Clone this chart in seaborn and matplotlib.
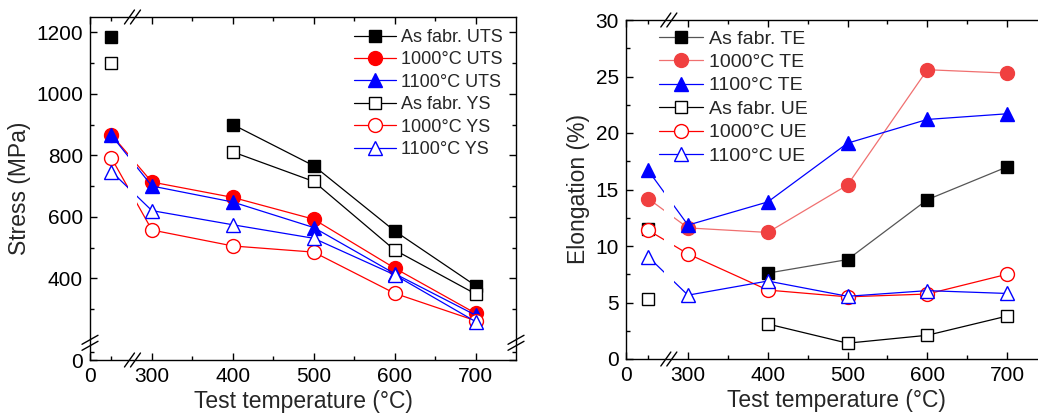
import matplotlib
matplotlib.use("Agg")
import matplotlib.pyplot as plt
from matplotlib.lines import Line2D
import seaborn as sns
import pandas as pd
import numpy as np

sns.set_style("ticks")
plt.rcParams['font.family'] = ['Liberation Sans', 'DejaVu Sans']

# test temperatures; room temperature is drawn at 250 on the broken axis
temps = [250, 300, 400, 500, 600, 700]

# stress (MPa)
asfab_uts = [1184, np.nan, 900, 766, 554, 376]
t1000_uts = [867, 713, 663, 592, 433, 286]
t1100_uts = [865, 700, 648, 565, 415, 280]
asfab_ys = [1099, np.nan, 811, 715, 492, 349]
t1000_ys = [791, 557, 505, 485, 351, 262]
t1100_ys = [747, 620, 574, 530, 411, 259]

# elongation (%)
asfab_te = [11.5, np.nan, 7.6, 8.8, 14.1, 17.0]
t1000_te = [14.2, 11.6, 11.2, 15.4, 25.6, 25.3]
t1100_te = [16.7, 11.85, 13.9, 19.1, 21.2, 21.7]
asfab_ue = [5.3, np.nan, 3.1, 1.4, 2.1, 3.8]
t1000_ue = [11.4, 9.3, 6.1, 5.5, 5.75, 7.5]
t1100_ue = [9.05, 5.65, 6.9, 5.55, 6.05, 5.8]

xticks = [300, 400, 500, 600, 700]

RED = '#ff0000'
BLUE = '#0000ff'
LRED = '#f04040'

fig = plt.figure(figsize=(10.38, 4.13), dpi=100)
ax1 = fig.add_axes([90/1038, 53/413, 426/1038, 343/413])
ax2 = fig.add_axes([626/1038, 54/413, 421/1038, 339/413])


def draw(ax, vals, label, marker, color, filled, ms, lcolor=None):
    df = pd.DataFrame({'T': temps, 'v': vals})
    seg = df['v'].isna().cumsum()
    lc = lcolor or color
    fc = color if filled else 'white'
    for _, part in df[df['v'].notna()].groupby(seg[df['v'].notna()]):
        sns.lineplot(data=part, x='T', y='v', ax=ax, estimator=None, sort=False,
                     color=lc, linewidth=0.9, marker=marker, markersize=ms,
                     markerfacecolor=fc, markeredgecolor=color,
                     markeredgewidth=1.0)
    return Line2D([], [], color=lc, linewidth=0.9, marker=marker, markersize=ms,
                  markerfacecolor=fc, markeredgecolor=color, markeredgewidth=1.0,
                  label=label)


h1 = [
    draw(ax1, asfab_uts, 'As fabr. UTS', 's', 'black', True, 9),
    draw(ax1, t1000_uts, '1000°C UTS', 'o', RED, True, 10),
    draw(ax1, t1100_uts, '1100°C UTS', '^', BLUE, True, 10),
    draw(ax1, asfab_ys, 'As fabr. YS', 's', 'black', False, 9),
    draw(ax1, t1000_ys, '1000°C YS', 'o', RED, False, 10),
    draw(ax1, t1100_ys, '1100°C YS', '^', BLUE, False, 10),
]
h2 = [
    draw(ax2, asfab_te, 'As fabr. TE', 's', 'black', True, 9, lcolor='#555555'),
    draw(ax2, t1000_te, '1000°C TE', 'o', LRED, True, 10, lcolor='#f07070'),
    draw(ax2, t1100_te, '1100°C TE', '^', BLUE, True, 10),
    draw(ax2, asfab_ue, 'As fabr. UE', 's', 'black', False, 9),
    draw(ax2, t1000_ue, '1000°C UE', 'o', RED, False, 10),
    draw(ax2, t1100_ue, '1100°C UE', '^', BLUE, False, 10),
]


def breakmark(ax, xa, ya, horiz):
    # two short slashes centred on (xa, ya) in axes coords
    bb = ax.get_window_extent()
    w, h = bb.width, bb.height
    if horiz:
        d, offs = (5, 7), [(-3, 0), (3, 0)]
    else:
        d, offs = (8, 4.5), [(0, -3), (0, 3)]
    for ox, oy in offs:
        ax.plot([xa + (ox - d[0]) / w, xa + (ox + d[0]) / w],
                [ya + (oy - d[1]) / h, ya + (oy + d[1]) / h],
                transform=ax.transAxes, color='black', linewidth=1.0,
                clip_on=False, zorder=5)


for ax, x0, ylab in [(ax1, 223.5, 'Stress (MPa)'), (ax2, 222.3, 'Elongation (%)')]:
    ax.set_xlim(x0, 750)
    ax.set_xticks([x0] + xticks)
    ax.set_xticklabels(['0'] + [str(t) for t in xticks])
    ax.set_xticks([250, 350, 450, 550, 650], minor=True)
    ax.axvspan(270, 282, color='white', zorder=2.1, linewidth=0)
    ax.tick_params(which='both', direction='in', top=True, right=True,
                   labelsize=15, width=1, colors='black', pad=5)
    ax.tick_params(which='major', length=5)
    ax.tick_params(which='minor', length=3)
    for s in ax.spines.values():
        s.set_linewidth(1)
        s.set_color('black')
    ax.set_xlabel('Test temperature (°C)', fontsize=16.5, labelpad=3)
    ax.set_ylabel(ylab, fontsize=16.5, labelpad=4)
    xa = (276 - x0) / (750 - x0)
    breakmark(ax, xa, 0, True)
    breakmark(ax, xa, 1, True)

ax1.set_ylim(134, 1250)
ax1.set_yticks([134, 400, 600, 800, 1000, 1200])
ax1.set_yticklabels(['0', '400', '600', '800', '1000', '1200'])
ax1.set_yticks([161, 300, 500, 700, 900, 1100], minor=True)
ya = (190 - 134) / (1250 - 134)
breakmark(ax1, 0, ya, False)
breakmark(ax1, 1, ya, False)

ax2.set_ylim(0, 30)
ax2.set_yticks([0, 5, 10, 15, 20, 25, 30])
ax2.set_yticks(np.arange(2.5, 30, 5), minor=True)

ax1.legend(handles=h1, loc='upper right', bbox_to_anchor=(0.995, 0.997),
           frameon=False, fontsize=13, handlelength=2.3, handletextpad=0.3,
           labelspacing=0.3, borderaxespad=0.2)
ax2.legend(handles=h2, loc='upper left', bbox_to_anchor=(0.05, 1.005),
           frameon=False, fontsize=14, handlelength=2.3, handletextpad=0.3,
           labelspacing=0.3, borderaxespad=0.2)

fig.savefig('out.png', dpi=100)
